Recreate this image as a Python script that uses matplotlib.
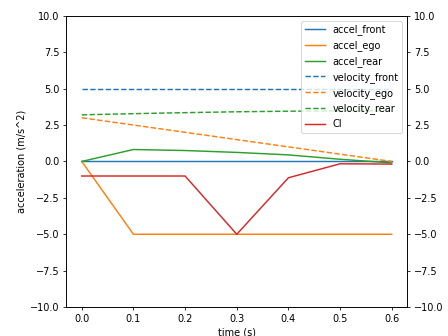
import matplotlib
matplotlib.use("Agg")
import matplotlib.pyplot as plt

time = [0.0, 0.1, 0.2, 0.3, 0.4, 0.5, 0.6]
accel_front = [0, 0, 0, 0, 0, 0, 0]
accel_ego = [0, -5, -5, -5, -5, -5, -5]
accel_rear = [0, 0.82, 0.75, 0.62, 0.45, 0.15, -0.1]
velocity_front = [5, 5, 5, 5, 5, 5, 5]
velocity_ego = [3.0, 2.5, 2.0, 1.5, 1.0, 0.5, 0.0]
velocity_rear = [3.2, 3.28, 3.35, 3.41, 3.45, 3.47, 3.47]
ci = [-1, -1, -1, -5, -1.12, -0.16, -0.18]

fig = plt.figure(figsize=(6.4, 4.8), dpi=70)
ax1 = fig.add_subplot(111)
fig.subplots_adjust(left=0.148, right=0.909, top=0.953, bottom=0.086)

l1, = ax1.plot(time, accel_front, color="C0", label="accel_front")
l2, = ax1.plot(time, accel_ego, color="C1", label="accel_ego")
l3, = ax1.plot(time, accel_rear, color="C2", label="accel_rear")
ax1.set_ylim(-10, 10)
ax1.set_xlabel("time (s)")
ax1.set_ylabel("acceleration (m/s^2)")

ax2 = ax1.twinx()
l4, = ax2.plot(time, velocity_front, "--", color="C0", label="velocity_front")
l5, = ax2.plot(time, velocity_ego, "--", color="C1", label="velocity_ego")
l6, = ax2.plot(time, velocity_rear, "--", color="C2", label="velocity_rear")
l7, = ax1.plot(time, ci, color="C3", label="CI")
ax2.set_ylim(-10, 10)

handles = [l1, l2, l3, l4, l5, l6, l7]
ax2.legend(handles, [h.get_label() for h in handles], loc="upper right")

fig.savefig("out.png", dpi=70)
